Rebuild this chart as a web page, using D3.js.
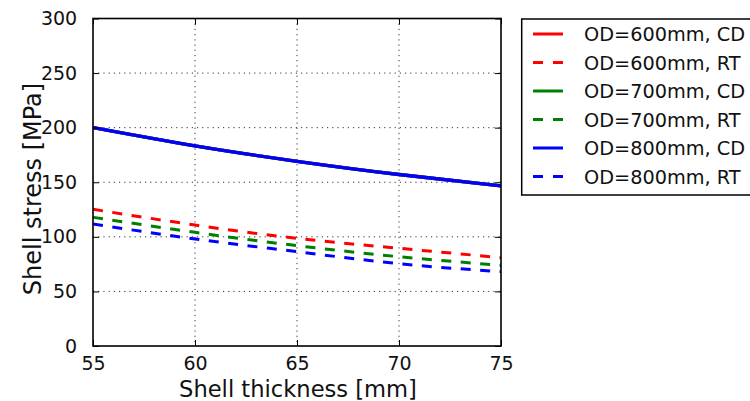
<!DOCTYPE html>
<html>
<head>
<meta charset="utf-8">
<script src="https://cdn.jsdelivr.net/npm/d3@7"></script>
<style>
  html, body { margin: 0; padding: 0; background: #fff; }
  svg { display: block; font-family: "DejaVu Sans", sans-serif; }
</style>
</head>
<body>
<svg id="chart" width="750" height="401"></svg>
<script>
// Shell thickness [mm]
const thickness = [55, 60, 65, 70, 75];

// Shell stress [MPa] per outer diameter, CD and RT cases
const od600CD = [200, 183.3, 169.2, 157.1, 146.7];
const od600RT = [125.2, 110.8, 98.6, 89.5, 80.9];
const od700CD = [200, 183.3, 169.2, 157.1, 146.7];
const od700RT = [117.9, 104.1, 91.9, 81.8, 73.9];
const od800CD = [200, 183.3, 169.2, 157.1, 146.7];
const od800RT = [111.8, 98.0, 86.4, 75.4, 68.1];

const seriesNames = ["OD=600mm, CD", "OD=600mm, RT", "OD=700mm, CD",
                     "OD=700mm, RT", "OD=800mm, CD", "OD=800mm, RT"];
const seriesValues = [od600CD, od600RT, od700CD, od700RT, od800CD, od800RT];
const seriesColors = ["#ff0000", "#ff0000", "#008000", "#008000", "#0000ff", "#0000ff"];
const seriesDashed = [false, true, false, true, false, true];

const xTicks = [55, 60, 65, 70, 75];
const yTicks = [0, 50, 100, 150, 200, 250, 300];

const svg = d3.select("#chart");
const plot = { left: 93, right: 501, top: 18.5, bottom: 346 };

const x = d3.scaleLinear().domain([55, 75]).range([plot.left, plot.right]);
const y = d3.scaleLinear().domain([0, 300]).range([plot.bottom, plot.top]);

svg.append("defs").append("clipPath").attr("id", "plotClip")
  .append("rect")
  .attr("x", plot.left).attr("y", plot.top)
  .attr("width", plot.right - plot.left).attr("height", plot.bottom - plot.top);

// dotted grid
const grid = svg.append("g").attr("stroke", "#333").attr("stroke-width", 1)
  .attr("stroke-dasharray", "1.2,4");
grid.selectAll("line.gx").data(xTicks.slice(1, -1)).join("line")
  .attr("x1", d => x(d)).attr("x2", d => x(d))
  .attr("y1", plot.top).attr("y2", plot.bottom);
grid.selectAll("line.gy").data(yTicks.slice(1, -1)).join("line")
  .attr("x1", plot.left).attr("x2", plot.right)
  .attr("y1", d => y(d)).attr("y2", d => y(d));

// data lines
const line = d3.line()
  .x((d, i) => x(thickness[i]))
  .y(d => y(d))
  .curve(d3.curveNatural);

const lines = svg.append("g").attr("clip-path", "url(#plotClip)");
seriesValues.forEach((vals, k) => {
  lines.append("path")
    .attr("d", line(vals))
    .attr("fill", "none")
    .attr("stroke", seriesColors[k])
    .attr("stroke-width", seriesDashed[k] ? 3 : 3.3)
    .attr("stroke-dasharray", seriesDashed[k] ? "10,9.5" : null);
});

// axes (ticks pointing inward on all four sides)
const tickLen = 6;
const axisBottom = d3.axisBottom(x).tickValues(xTicks).tickSizeInner(-tickLen).tickSizeOuter(0).tickPadding(11);
const axisLeft = d3.axisLeft(y).tickValues(yTicks).tickSizeInner(-tickLen).tickSizeOuter(0).tickPadding(12);
const axisTop = d3.axisTop(x).tickValues(xTicks).tickSizeInner(-tickLen).tickSizeOuter(0).tickFormat("");
const axisRight = d3.axisRight(y).tickValues(yTicks).tickSizeInner(-tickLen).tickSizeOuter(0).tickFormat("");

function styleAxis(g) {
  g.select(".domain").remove();
  g.selectAll(".tick line").attr("stroke", "#000").attr("stroke-width", 1);
  g.selectAll(".tick text").attr("fill", "#111").attr("font-size", "19px")
    .attr("font-family", "DejaVu Sans, sans-serif");
}

svg.append("g").attr("transform", `translate(0,${plot.bottom})`).call(axisBottom).call(styleAxis)
  .selectAll(".tick text").attr("dy", "0.71em");
svg.append("g").attr("transform", `translate(${plot.left},0)`).call(axisLeft).call(styleAxis)
  .selectAll(".tick text").attr("dx", "-0.2em");
svg.append("g").attr("transform", `translate(0,${plot.top})`).call(axisTop).call(styleAxis);
svg.append("g").attr("transform", `translate(${plot.right},0)`).call(axisRight).call(styleAxis);

// frame
svg.append("rect")
  .attr("x", plot.left).attr("y", plot.top)
  .attr("width", plot.right - plot.left).attr("height", plot.bottom - plot.top)
  .attr("fill", "none").attr("stroke", "#000").attr("stroke-width", 1.6);

// axis titles
svg.append("text")
  .attr("x", (plot.left + plot.right) / 2 + 1).attr("y", 397)
  .attr("text-anchor", "middle").attr("font-size", "22.6px").attr("fill", "#111")
  .text("Shell thickness [mm]");
svg.append("text")
  .attr("transform", "translate(41,189) rotate(-90)")
  .attr("text-anchor", "middle").attr("font-size", "24px").attr("fill", "#111")
  .text("Shell stress [MPa]");

// legend
const legend = svg.append("g");
legend.append("rect")
  .attr("x", 521.7).attr("y", 19).attr("width", 260).attr("height", 176)
  .attr("fill", "#fff").attr("stroke", "#000").attr("stroke-width", 1.5);
seriesNames.forEach((name, k) => {
  const ly = 34 + k * 28.5;
  legend.append("line")
    .attr("x1", 533).attr("x2", 563).attr("y1", ly).attr("y2", ly)
    .attr("stroke", seriesColors[k]).attr("stroke-width", 3)
    .attr("stroke-dasharray", seriesDashed[k] ? "10,10" : null);
  legend.append("text")
    .attr("x", 584).attr("y", ly + 7)
    .attr("font-size", "19.3px").attr("fill", "#111")
    .text(name);
});
</script>
</body>
</html>
